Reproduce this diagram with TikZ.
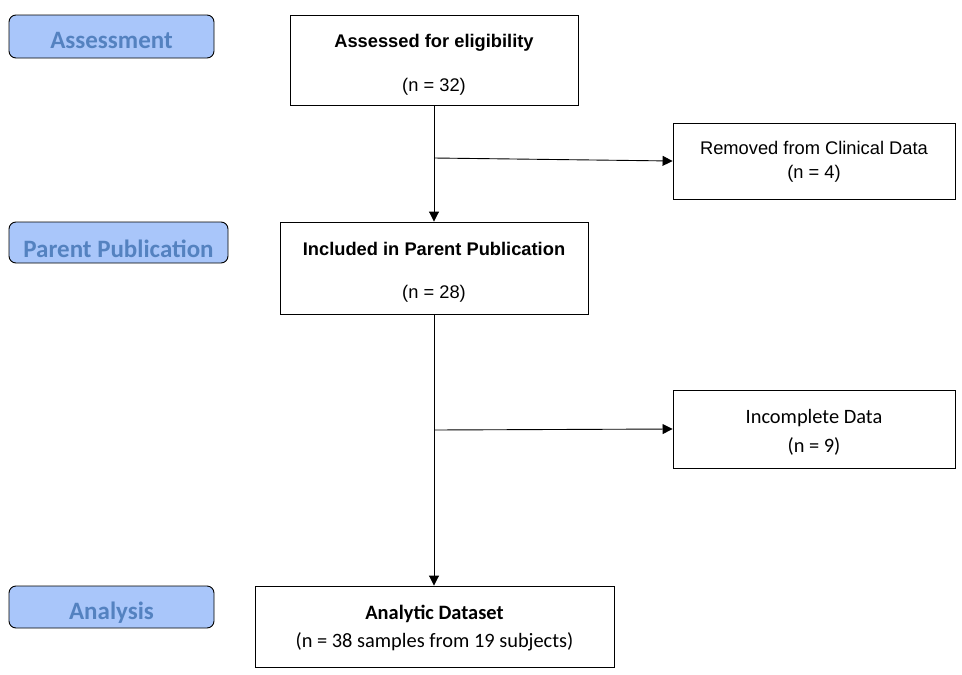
\documentclass[tikz,border=0pt]{standalone}
\usepackage{fontspec}
\setmainfont{Liberation Sans}
\newfontfamily\calibri{Carlito}
\usetikzlibrary{arrows.meta}
\definecolor{stagefill}{RGB}{169,198,250}
\definecolor{stagetext}{RGB}{84,130,192}

\begin{document}
\begin{tikzpicture}[x=1pt, y=-1pt,
    box/.style={draw, line width=0.9pt, rectangle, align=center,
      font=\fontsize{18.3}{22}\selectfont},
    calbox/.style={box, font=\calibri\fontsize{20.4}{24}\selectfont},
    stage/.style={draw, line width=0.9pt, rounded corners=7pt, fill=stagefill,
      text=stagetext, font=\calibri\bfseries\fontsize{25}{28}\selectfont,
      minimum height=42pt, text height=24pt, text depth=0pt},
    arr/.style={line width=0.9pt, -{Triangle[length=10pt,width=10pt]}}]

    \useasboundingbox (0,0) rectangle (962,675);

    % stage labels on the left
    \node[stage, minimum width=205pt, minimum height=43pt] (sassess) at (111.5,36.5) {Assessment};
    \node[stage, minimum width=219pt, minimum height=41pt, text height=30pt] (sparent) at (118.5,242.5) {Parent Publication};
    \node[stage, minimum width=205pt] (sanalysis) at (111.5,607) {Analysis};

    % main column
    \node[box, minimum width=288pt, minimum height=90pt] (assess) at (434,60)
      {\rule{0pt}{22pt}\textbf{Assessed for eligibility}\\[22pt](n = 32)};
    \node[box, minimum width=308pt, minimum height=92pt] (incl) at (434,268)
      {\rule{0pt}{21pt}\textbf{Included in Parent Publication}\\[21pt](n = 28)};
    \node[calbox, minimum width=359pt, minimum height=81pt] (analytic) at (434.5,626.5)
      {\rule{0pt}{17.5pt}\textbf{Analytic Dataset}\\[4pt](n = 38 samples from 19 subjects)};

    % exclusions
    \node[box, minimum width=282pt, minimum height=76pt] (removed) at (814,161)
      {\rule{0pt}{14pt}Removed from Clinical Data\\[2pt](n = 4)};
    \node[calbox, minimum width=282pt, minimum height=78pt] (incomplete) at (814,429)
      {\rule{0pt}{20pt}Incomplete Data\\[5pt](n = 9)};

    \coordinate (split1) at (434,158);
    \coordinate (split2) at (434,430);

    \draw[arr] (assess) -- (incl);
    \draw[arr] (incl) -- (incl |- analytic.north);
    \draw[arr] (split1) -- (removed.west);
    \draw[arr] (split2) -- (incomplete.west);
  \end{tikzpicture}
\end{document}
